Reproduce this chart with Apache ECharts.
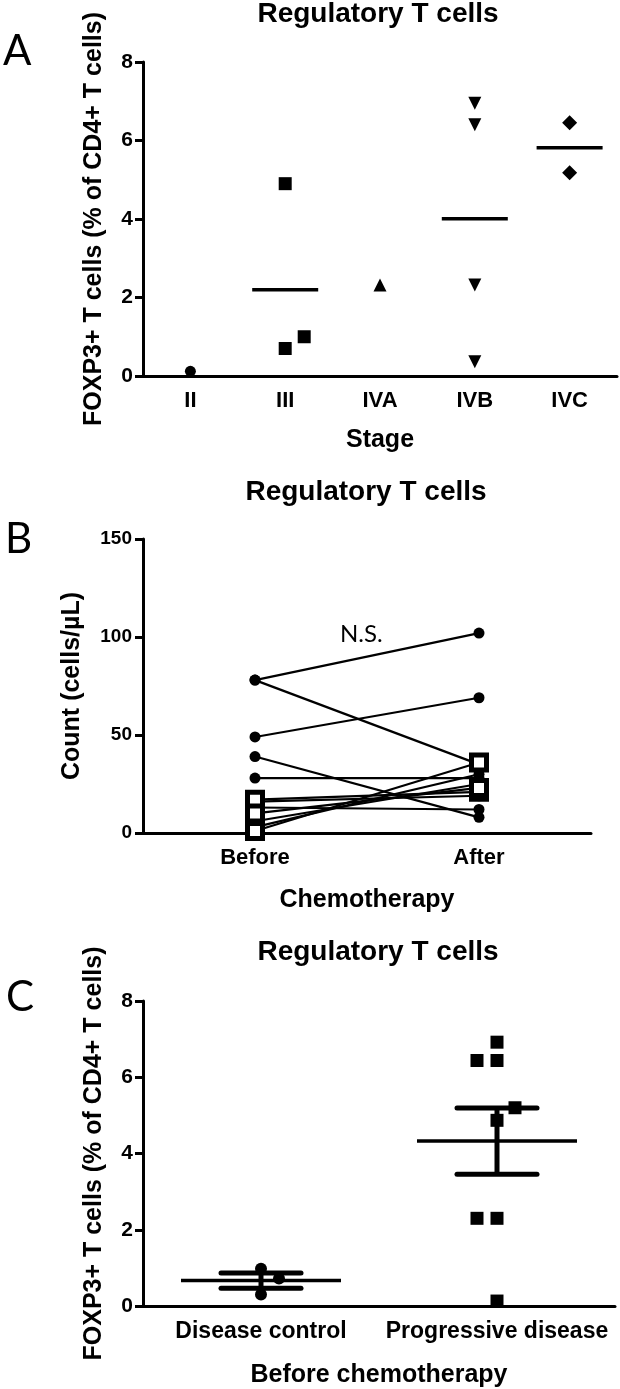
<!DOCTYPE html>
<html><head><meta charset="utf-8">
<script src="https://cdn.jsdelivr.net/npm/echarts@6/dist/echarts.min.js"></script>
<style>html,body{margin:0;padding:0;background:#fff}#c{width:620px;height:1389px}</style>
</head><body><div id="c"></div>
<script>
// ---------- Panel A data ----------
const stagesA = ['II', 'III', 'IVA', 'IVB', 'IVC'];
const valsII = [0.12];
const valsIII = [4.9, 0.7, 1.0];
const valsIVA = [2.32];
const valsIVB = [6.95, 6.4, 2.32, 0.36];
const valsIVC = [6.45, 5.18];
const yTicksA = [0, 2, 4, 6, 8];
// ---------- Panel B data ----------
const phasesB = ['Before', 'After'];
const beforeB = [78, 78, 49, 39, 28, 17, 16, 13, 10, 6, 3, 1];
const afterB  = [102, 35, 69, 8, 28, 21, 19, 12, 23, 25, 30, 36];
const markerB = ['circle','circle','circle','circle','circle','square','circle','circle','square','circle','circle','square'];
const yTicksB = [0, 50, 100, 150];
// ---------- Panel C data ----------
const groupsC = ['Disease control', 'Progressive disease'];
const dcVals = [0.98, 0.72, 0.3];
const pdVals = [6.92, 6.44, 6.44, 5.2, 4.87, 2.3, 2.3, 0.13];
const yTicksC = [0, 2, 4, 6, 8];

// jitter (pixel offsets, style only)
const jitIII = [0, 0, 19];
const jitDC = [0, 18, 0];
const jitPD = [0, -20, 0, 18, 0, -20, 0, 0];

const FONT = 'Liberation Sans';
const mean = a => a.reduce((s, v) => s + v, 0) / a.length;
const sem = a => { const m = mean(a); return Math.sqrt(a.reduce((s, v) => s + (v - m) * (v - m), 0) / (a.length - 1)) / Math.sqrt(a.length); };

const chart = echarts.init(document.getElementById('c'), null, {renderer: 'canvas'});

const axisLine = {lineStyle: {color: '#000', width: 3}};
const axisTick = {length: 8, lineStyle: {color: '#000', width: 3}};
const lbl = (size, margin) => ({color: '#000', fontFamily: FONT, fontWeight: 'bold', fontSize: size, margin: margin, interval: 0, hideOverlap: false});
const nameStyle = {color: '#000', fontFamily: FONT, fontWeight: 'bold', fontSize: 25};

function pts(vals, idx, jit) {
  return vals.map((v, i) => ({value: [idx, v], symbolOffset: [jit ? jit[i] : 0, 0]}));
}

const groupsA = [valsII, valsIII, valsIVA, valsIVB, valsIVC];
const meanA = [];
groupsA.forEach((g, i) => { if (g.length > 1) meanA.push([i, mean(g)]); });

const series = [];
// Panel A scatter
const symA = ['circle', 'rect', 'triangle', 'path://M0,0 L10,0 L5,9 Z', 'diamond'];
const sizeA = [11, 13, 13, 13, 15];
groupsA.forEach((g, i) => {
  series.push({type: 'scatter', xAxisIndex: 0, yAxisIndex: 0, symbol: symA[i], symbolSize: sizeA[i],
    itemStyle: {color: '#000', opacity: 1}, data: pts(g, i, i === 1 ? jitIII : null), z: 5});
});
series.push({type: 'custom', xAxisIndex: 0, yAxisIndex: 0, data: meanA, z: 4,
  renderItem: (p, api) => { const c = api.coord([api.value(0), api.value(1)]);
    return {type: 'line', shape: {x1: c[0] - 33, y1: c[1], x2: c[0] + 33, y2: c[1]}, style: {stroke: '#000', lineWidth: 3.5}}; }});

// Panel B paired lines
const orderB = beforeB.map((_, i) => i).sort((a, b) => (markerB[a] === 'square') - (markerB[b] === 'square'));
orderB.forEach(i => {
  const sq = markerB[i] === 'square';
  series.push({type: 'line', xAxisIndex: 1, yAxisIndex: 1, data: [[0, beforeB[i]], [1, afterB[i]]],
    symbol: sq ? 'rect' : 'circle', symbolSize: sq ? 15 : 11, showSymbol: true,
    lineStyle: {color: '#000', width: 2.2},
    itemStyle: sq ? {color: '#fff', borderColor: '#000', borderWidth: 5, opacity: 1} : {color: '#000', borderWidth: 0, opacity: 1},
    z: sq ? 6 : 5, silent: true, animation: false});
});

// Panel C
series.push({type: 'scatter', xAxisIndex: 2, yAxisIndex: 2, symbol: 'circle', symbolSize: 12,
  itemStyle: {color: '#000', opacity: 1}, data: pts(dcVals, 0, jitDC), z: 5});
series.push({type: 'scatter', xAxisIndex: 2, yAxisIndex: 2, symbol: 'rect', symbolSize: 13,
  itemStyle: {color: '#000', opacity: 1}, data: pts(pdVals, 1, jitPD), z: 5});
const statsC = [dcVals, pdVals].map((g, i) => [i, mean(g), mean(g) - sem(g), mean(g) + sem(g)]);
series.push({type: 'custom', xAxisIndex: 2, yAxisIndex: 2, data: statsC, z: 6,
  renderItem: (p, api) => {
    const m = api.coord([api.value(0), api.value(1)]);
    const lo = api.coord([api.value(0), api.value(2)]);
    const hi = api.coord([api.value(0), api.value(3)]);
    const x = m[0];
    return {type: 'group', children: [
      {type: 'line', shape: {x1: x - 80, y1: m[1], x2: x + 80, y2: m[1]}, style: {stroke: '#000', lineWidth: 3.5}},
      {type: 'line', shape: {x1: x, y1: lo[1], x2: x, y2: hi[1]}, style: {stroke: '#000', lineWidth: 5}},
      {type: 'line', shape: {x1: x - 40, y1: lo[1], x2: x + 40, y2: lo[1]}, style: {stroke: '#000', lineWidth: 5, lineCap: 'round'}},
      {type: 'line', shape: {x1: x - 40, y1: hi[1], x2: x + 40, y2: hi[1]}, style: {stroke: '#000', lineWidth: 5, lineCap: 'round'}}
    ]};
  }});

const titleStyle = {color: '#000', fontFamily: FONT, fontWeight: 'bold', fontSize: 28};
const option = {
  backgroundColor: '#fff',
  animation: false,
  title: [
    {text: 'Regulatory T cells', left: 378, top: 0, textAlign: 'center', textStyle: titleStyle, padding: 0},
    {text: 'Regulatory T cells', left: 366, top: 478, textAlign: 'center', textStyle: titleStyle, padding: 0},
    {text: 'Regulatory T cells', left: 378, top: 938, textAlign: 'center', textStyle: titleStyle, padding: 0}
  ],
  graphic: [
    {type: 'text', left: 3, top: 30, style: {text: 'A', font: '42px Lato', fill: '#000'}},
    {type: 'text', left: 5, top: 518, style: {text: 'B', font: '42px Lato', fill: '#000'}},
    {type: 'text', left: 6, top: 976, style: {text: 'C', font: '42px Lato', fill: '#000'}},
    {type: 'text', left: 340, top: 622, style: {text: 'N.S.', font: '24px Lato', fill: '#000'}}
  ],
  grid: [
    {left: 143, top: 62, width: 474, height: 314},
    {left: 143, top: 539, width: 448, height: 294},
    {left: 143, top: 1001, width: 472, height: 312}
  ],
  xAxis: [
    {type: 'category', gridIndex: 0, data: stagesA, boundaryGap: true, axisLine, axisTick: Object.assign({alignWithLabel: true}, axisTick),
      axisLabel: lbl(22, 14), name: 'Stage', nameLocation: 'middle', nameGap: 52, nameTextStyle: nameStyle},
    {type: 'category', gridIndex: 1, data: phasesB, boundaryGap: true, axisLine, axisTick: Object.assign({alignWithLabel: true}, axisTick),
      axisLabel: lbl(22, 14), name: 'Chemotherapy', nameLocation: 'middle', nameGap: 55, nameTextStyle: nameStyle},
    {type: 'category', gridIndex: 2, data: groupsC, boundaryGap: true, axisLine, axisTick: Object.assign({alignWithLabel: true}, axisTick),
      axisLabel: lbl(23, 14), name: 'Before chemotherapy', nameLocation: 'middle', nameGap: 57, nameTextStyle: nameStyle}
  ],
  yAxis: [
    {type: 'value', gridIndex: 0, min: yTicksA[0], max: yTicksA[yTicksA.length - 1], interval: 2, splitLine: {show: false},
      axisLine: Object.assign({show: true}, axisLine), axisTick: Object.assign({show: true}, axisTick), axisLabel: lbl(21, 10),
      name: 'FOXP3+ T cells (% of CD4+ T cells)', nameLocation: 'middle', nameRotate: 90, nameGap: 36, nameTextStyle: nameStyle},
    {type: 'value', gridIndex: 1, min: yTicksB[0], max: yTicksB[yTicksB.length - 1], interval: 50, splitLine: {show: false},
      axisLine: Object.assign({show: true}, axisLine), axisTick: Object.assign({show: true}, axisTick), axisLabel: lbl(19, 11),
      name: 'Count (cells/µL)', nameLocation: 'middle', nameRotate: 90, nameGap: 58, nameTextStyle: nameStyle},
    {type: 'value', gridIndex: 2, min: yTicksC[0], max: yTicksC[yTicksC.length - 1], interval: 2, splitLine: {show: false},
      axisLine: Object.assign({show: true}, axisLine), axisTick: Object.assign({show: true}, axisTick), axisLabel: lbl(21, 10),
      name: 'FOXP3+ T cells (% of CD4+ T cells)', nameLocation: 'middle', nameRotate: 90, nameGap: 36, nameTextStyle: nameStyle}
  ],
  series: series
};
chart.setOption(option);
</script></body></html>
